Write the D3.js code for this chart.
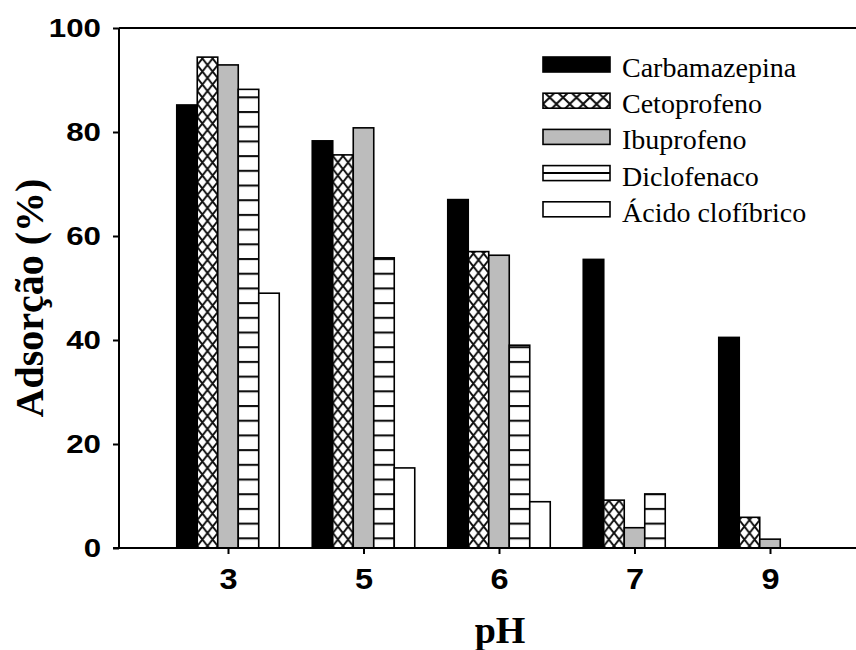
<!DOCTYPE html>
<html>
<head>
<meta charset="utf-8">
<script src="https://cdn.jsdelivr.net/npm/d3@7"></script>
<style>
  html, body { margin: 0; padding: 0; background: #fff; }
  svg { display: block; }
</style>
</head>
<body>
<svg id="chart" width="856" height="650"></svg>
<script>
// pH values on the x axis
const phLevels = ["3", "5", "6", "7", "9"];
// Compounds (one bar per compound in each pH group)
const compounds = ["Carbamazepina", "Cetoprofeno", "Ibuprofeno", "Diclofenaco", "Ácido clofíbrico"];
// Adsorption (%) per compound, ordered by pH level
const carbamazepina = [85.2, 78.3, 67.0, 55.5, 40.5];
const cetoprofeno   = [94.4, 75.6, 57.0, 9.2, 5.9];
const ibuprofeno    = [92.9, 80.8, 56.3, 3.9, 1.7];
const diclofenaco   = [88.2, 55.8, 39.0, 10.4, 0];
const acidoClofibrico = [49.0, 15.4, 8.9, 0, 0];
const yTicks = [0, 20, 40, 60, 80, 100];

const seriesValues = [carbamazepina, cetoprofeno, ibuprofeno, diclofenaco, acidoClofibrico];

const svg = d3.select("#chart");
const plotLeft = 119, plotTop = 28, plotBottom = 548, plotRight = 856;

const y = d3.scaleLinear().domain([0, 100]).range([plotBottom, plotTop]);
const x = d3.scalePoint().domain(phLevels).range([228, 770]);
const groupWidth = 102.5;
const inner = d3.scaleBand().domain(compounds).range([-groupWidth / 2, groupWidth / 2]);
const bw = inner.bandwidth();

const defs = svg.append("defs");

// Cross-hatch pattern (diamond lattice) anchored at a given x
function crossPattern(id, x0, w, h) {
  const p = defs.append("pattern").attr("id", id)
    .attr("patternUnits", "userSpaceOnUse")
    .attr("x", x0).attr("y", 0).attr("width", w).attr("height", h);
  p.append("rect").attr("width", w).attr("height", h).attr("fill", "#fff");
  p.append("path")
    .attr("d", `M0,0L${w},${h}M${w},0L0,${h}`)
    .attr("stroke", "#111").attr("stroke-width", 2).attr("fill", "none");
}
// Horizontal-line pattern
function linePattern(id, y0, h) {
  const p = defs.append("pattern").attr("id", id)
    .attr("patternUnits", "userSpaceOnUse")
    .attr("x", 0).attr("y", y0).attr("width", 20).attr("height", h);
  p.append("rect").attr("width", 20).attr("height", h).attr("fill", "#fff");
  p.append("line").attr("x1", 0).attr("x2", 20).attr("y1", 1).attr("y2", 1)
    .attr("stroke", "#111").attr("stroke-width", 2.2);
}

phLevels.forEach((ph, i) => {
  crossPattern("cross" + i, x(ph) + inner(compounds[1]), bw / 2, 13);
});
linePattern("hlines", 8.1, 14.7);

const fills = [
  () => "#000",
  i => `url(#cross${i})`,
  () => "#bcbcbc",
  () => "url(#hlines)",
  () => "#fff"
];

// Bars
const g = svg.append("g");
compounds.forEach((name, s) => {
  seriesValues[s].forEach((v, i) => {
    if (v <= 0) return;
    g.append("rect")
      .attr("x", x(phLevels[i]) + inner(name))
      .attr("y", y(v))
      .attr("width", bw)
      .attr("height", y(0) - y(v))
      .attr("fill", fills[s](i))
      .attr("stroke", "#000")
      .attr("stroke-width", 1.6);
  });
});

// Top frame line
svg.append("line").attr("x1", plotLeft).attr("x2", plotRight).attr("y1", plotTop).attr("y2", plotTop)
  .attr("stroke", "#000").attr("stroke-width", 2);

// Widen bold tick labels a little (the tick font is a wide grotesque)
function widen(sel, factor) {
  sel.each(function () {
    const len = this.getComputedTextLength();
    d3.select(this).attr("textLength", len * factor).attr("lengthAdjust", "spacingAndGlyphs");
  });
}

// Y axis
const yAxis = svg.append("g").attr("transform", `translate(${plotLeft},0)`)
  .call(d3.axisLeft(y).tickValues(yTicks).tickSize(6).tickPadding(12).tickFormat(d3.format("d")));
yAxis.select(".domain").attr("stroke-width", 2).attr("d", `M0,${plotTop}V${plotBottom}`);
yAxis.selectAll(".tick line").attr("stroke-width", 2);
yAxis.selectAll(".tick text")
  .attr("font-family", "'Liberation Sans', Arial, sans-serif")
  .attr("font-weight", "bold").attr("font-size", 25).attr("fill", "#000")
  .call(widen, 1.25);

// X axis
const xAxis = svg.append("g").attr("transform", `translate(0,${plotBottom})`)
  .call(d3.axisBottom(x).tickSize(6).tickPadding(14));
xAxis.select(".domain").attr("stroke-width", 2).attr("d", `M${plotLeft - 6},0H${plotRight}`);
xAxis.selectAll(".tick line").attr("stroke-width", 2);
xAxis.selectAll(".tick text")
  .attr("font-family", "'Liberation Sans', Arial, sans-serif")
  .attr("font-weight", "bold").attr("font-size", 29).attr("fill", "#000")
  .call(widen, 1.12);

// Axis titles
svg.append("text")
  .attr("transform", "translate(43,298) rotate(-90)")
  .attr("text-anchor", "middle")
  .attr("font-family", "'Liberation Serif', 'Times New Roman', serif")
  .attr("font-weight", "bold").attr("font-size", 40)
  .text("Adsorção (%)");
svg.append("text")
  .attr("x", 500).attr("y", 643)
  .attr("text-anchor", "middle")
  .attr("font-family", "'Liberation Serif', 'Times New Roman', serif")
  .attr("font-weight", "bold").attr("font-size", 38)
  .text("pH");

// Legend
crossPattern("legendCross", 543, 13.4, 13);
const legendFills = ["#000", "url(#legendCross)", "#bcbcbc", "#fff", "#fff"];
const legend = svg.append("g");
compounds.forEach((name, s) => {
  const cy = 64.5 + s * 36.2;
  legend.append("rect")
    .attr("x", 543).attr("y", cy - 7.5).attr("width", 67).attr("height", 15)
    .attr("fill", legendFills[s]).attr("stroke", "#000").attr("stroke-width", 1.6);
  if (s === 3) {
    legend.append("line").attr("x1", 543).attr("x2", 610).attr("y1", cy).attr("y2", cy)
      .attr("stroke", "#000").attr("stroke-width", 2);
  }
  legend.append("text")
    .attr("x", 622).attr("y", cy + 12.5)
    .attr("font-family", "'Liberation Serif', 'Times New Roman', serif")
    .attr("font-size", 28).attr("fill", "#000")
    .text(name);
});
</script>
</body>
</html>
